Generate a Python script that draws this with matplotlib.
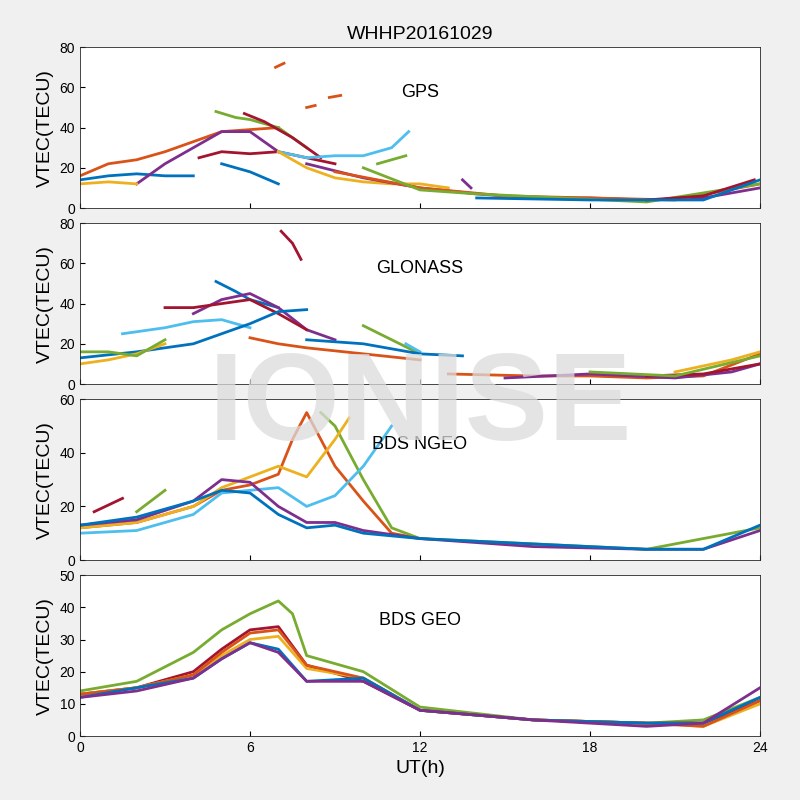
import matplotlib
matplotlib.use('Agg')
import matplotlib.pyplot as plt

plt.rcParams['font.family'] = ['Liberation Sans', 'DejaVu Sans']

# MATLAB default colour order
C = ['#0072BD', '#D95319', '#EDB120', '#7E2F8E', '#77AC30', '#4DBEEE', '#A2142F']

# each arc: (colour index, UT hours, VTEC)
gps_arcs = [
    (0, [0, 1, 2, 3, 4], [14, 16, 17, 16, 16]),
    (1, [0, 1, 2, 3, 4, 5, 6, 7], [16, 22, 24, 28, 33, 38, 39, 40]),
    (3, [2, 3, 4, 5, 6, 7], [12, 22, 30, 38, 38, 28]),
    (4, [4.8, 5.5, 6, 7, 8], [48, 45, 44, 40, 30]),
    (6, [4.2, 5, 6, 7, 8, 9], [25, 28, 27, 28, 25, 22]),
    (6, [5.8, 6.5, 7.5, 8.5], [47, 43, 35, 25]),
    (1, [6.9, 7.2], [70, 72]),
    (1, [8.0, 8.3], [50, 51]),
    (1, [8.8, 9.2], [55, 56]),
    (5, [7, 8, 9, 10, 11, 11.6], [28, 25, 26, 26, 30, 38]),
    (2, [7, 8, 9, 10, 11, 12, 13], [28, 20, 15, 13, 12, 12, 10]),
    (0, [5, 6, 7], [22, 18, 12]),
    (3, [8, 10, 12, 14, 16, 18, 20, 22, 24], [22, 15, 10, 7, 5, 5, 4, 5, 10]),
    (1, [9, 12, 15, 18, 21, 24], [18, 10, 6, 5, 4, 12]),
    (4, [10, 12, 14, 17, 20, 24], [20, 9, 7, 5, 3, 12]),
    (6, [20, 22, 23.8], [4, 6, 14]),
    (0, [14, 18, 22, 24], [5, 4, 4, 14]),
    (4, [10.5, 11.5], [22, 26]),
    (3, [13.5, 13.8], [14, 10]),
    (2, [0, 1, 2], [12, 13, 12]),
]

glonass_arcs = [
    (6, [7.1, 7.5, 7.8], [76, 70, 62]),
    (0, [4.8, 5.5, 6, 7], [51, 46, 42, 38]),
    (3, [4, 5, 6, 7, 8, 9], [35, 42, 45, 38, 27, 22]),
    (6, [3, 4, 5, 6, 7, 8], [38, 38, 40, 42, 35, 27]),
    (5, [1.5, 3, 4, 5, 6], [25, 28, 31, 32, 28]),
    (0, [0, 2, 4, 6, 7, 8], [13, 16, 20, 30, 36, 37]),
    (1, [6, 7, 8, 10, 12], [23, 20, 18, 15, 12]),
    (4, [10, 11, 12], [29, 22, 15]),
    (5, [11.5, 12], [20, 16]),
    (0, [8, 10, 12, 13.5], [22, 20, 15, 14]),
    (2, [0, 1, 2, 3], [10, 12, 15, 20]),
    (4, [0, 1, 2, 3], [16, 16, 14, 22]),
    (1, [13, 16, 18, 20, 22, 24], [5, 4, 4, 3, 4, 15]),
    (3, [15, 18, 21, 23, 24], [3, 5, 3, 6, 10]),
    (6, [20, 22, 24], [4, 5, 10]),
    (2, [21, 23, 24], [6, 12, 16]),
    (4, [18, 21, 24], [6, 4, 14]),
]

ngeo_arcs = [
    (1, [0, 2, 4, 5, 6, 7, 7.5, 8, 9, 10, 11, 12], [12, 14, 20, 26, 28, 32, 45, 55, 35, 22, 10, 8]),
    (4, [8.5, 9, 10, 11, 12, 16, 20, 24], [55, 50, 30, 12, 8, 6, 4, 12]),
    (2, [0, 2, 4, 5, 6, 7, 8, 9, 9.5], [12, 14, 20, 27, 31, 35, 31, 45, 53]),
    (5, [0, 2, 4, 5, 6, 7, 8, 9, 10, 11], [10, 11, 17, 25, 26, 27, 20, 24, 35, 50]),
    (3, [0, 2, 4, 5, 6, 7, 8, 9, 10, 12, 16, 20, 22, 24], [13, 15, 22, 30, 29, 20, 14, 14, 11, 8, 5, 4, 4, 11]),
    (0, [0, 2, 4, 5, 6, 7, 8, 9, 10, 12, 16, 20, 22, 24], [13, 16, 22, 26, 25, 17, 12, 13, 10, 8, 6, 4, 4, 13]),
    (6, [0.5, 1.5], [18, 23]),
    (4, [2, 3], [18, 26]),
]

geo_arcs = [
    (4, [0, 2, 4, 5, 6, 7, 7.5, 8, 10, 12, 16, 20, 22, 24], [14, 17, 26, 33, 38, 42, 38, 25, 20, 9, 5, 4, 5, 12]),
    (6, [0, 2, 4, 5, 6, 7, 8, 10, 12, 16, 20, 22, 24], [13, 15, 20, 27, 33, 34, 22, 17, 8, 5, 4, 4, 11]),
    (2, [0, 2, 4, 5, 6, 7, 8, 10, 12, 16, 20, 22, 24], [13, 15, 19, 25, 30, 31, 21, 18, 8, 5, 4, 3, 10]),
    (1, [0, 2, 4, 5, 6, 7, 8, 10, 12, 16, 20, 22, 24], [13, 15, 19, 26, 32, 33, 22, 18, 8, 5, 4, 3, 11]),
    (0, [0, 2, 4, 5, 6, 7, 8, 10, 12, 16, 20, 22, 24], [12, 15, 18, 24, 29, 27, 17, 18, 8, 5, 4, 4, 12]),
    (3, [0, 2, 4, 5, 6, 7, 8, 10, 12, 16, 20, 22, 24], [12, 14, 18, 24, 29, 26, 17, 17, 8, 5, 3, 4, 15]),
]

panels = [
    ('GPS', gps_arcs, 80, [0, 20, 40, 60, 80]),
    ('GLONASS', glonass_arcs, 80, [0, 20, 40, 60, 80]),
    ('BDS NGEO', ngeo_arcs, 60, [0, 20, 40, 60]),
    ('BDS GEO', geo_arcs, 50, [0, 10, 20, 30, 40, 50]),
]

fig = plt.figure(figsize=(8, 8), dpi=100, facecolor='#f0f0f0')
left, width, h = 0.10, 0.85, 0.201
bottoms = [0.74, 0.52, 0.30, 0.08]

for (name, arcs, ymax, yt), b in zip(panels, bottoms):
    ax = fig.add_axes([left, b, width, h])
    for ci, t, v in arcs:
        ax.plot(t, v, color=C[ci], lw=2)
    ax.set_xlim(0, 24)
    ax.set_ylim(0, ymax)
    ax.set_yticks(yt)
    ax.set_xticks([0, 6, 12, 18, 24])
    ax.tick_params(direction='in', labelsize=10, top=False, right=False)
    ax.set_ylabel('VTEC(TECU)', fontsize=14)
    ax.text(0.5, 0.69, name, transform=ax.transAxes, ha='center', fontsize=13)
    for s in ax.spines.values():
        s.set_color('#262626')
        s.set_linewidth(0.6)
    if b != bottoms[-1]:
        ax.set_xticklabels([])
    else:
        ax.set_xlabel('UT(h)', fontsize=14)
    if b == bottoms[0]:
        ax.set_title('WHHP20161029', fontsize=14)

fig.text(0.525, 0.49, 'IONISE', fontsize=90, fontweight='bold', color='#dcdcdc',
         alpha=0.75, ha='center', va='center', zorder=10)

fig.savefig('out.png', facecolor=fig.get_facecolor())
